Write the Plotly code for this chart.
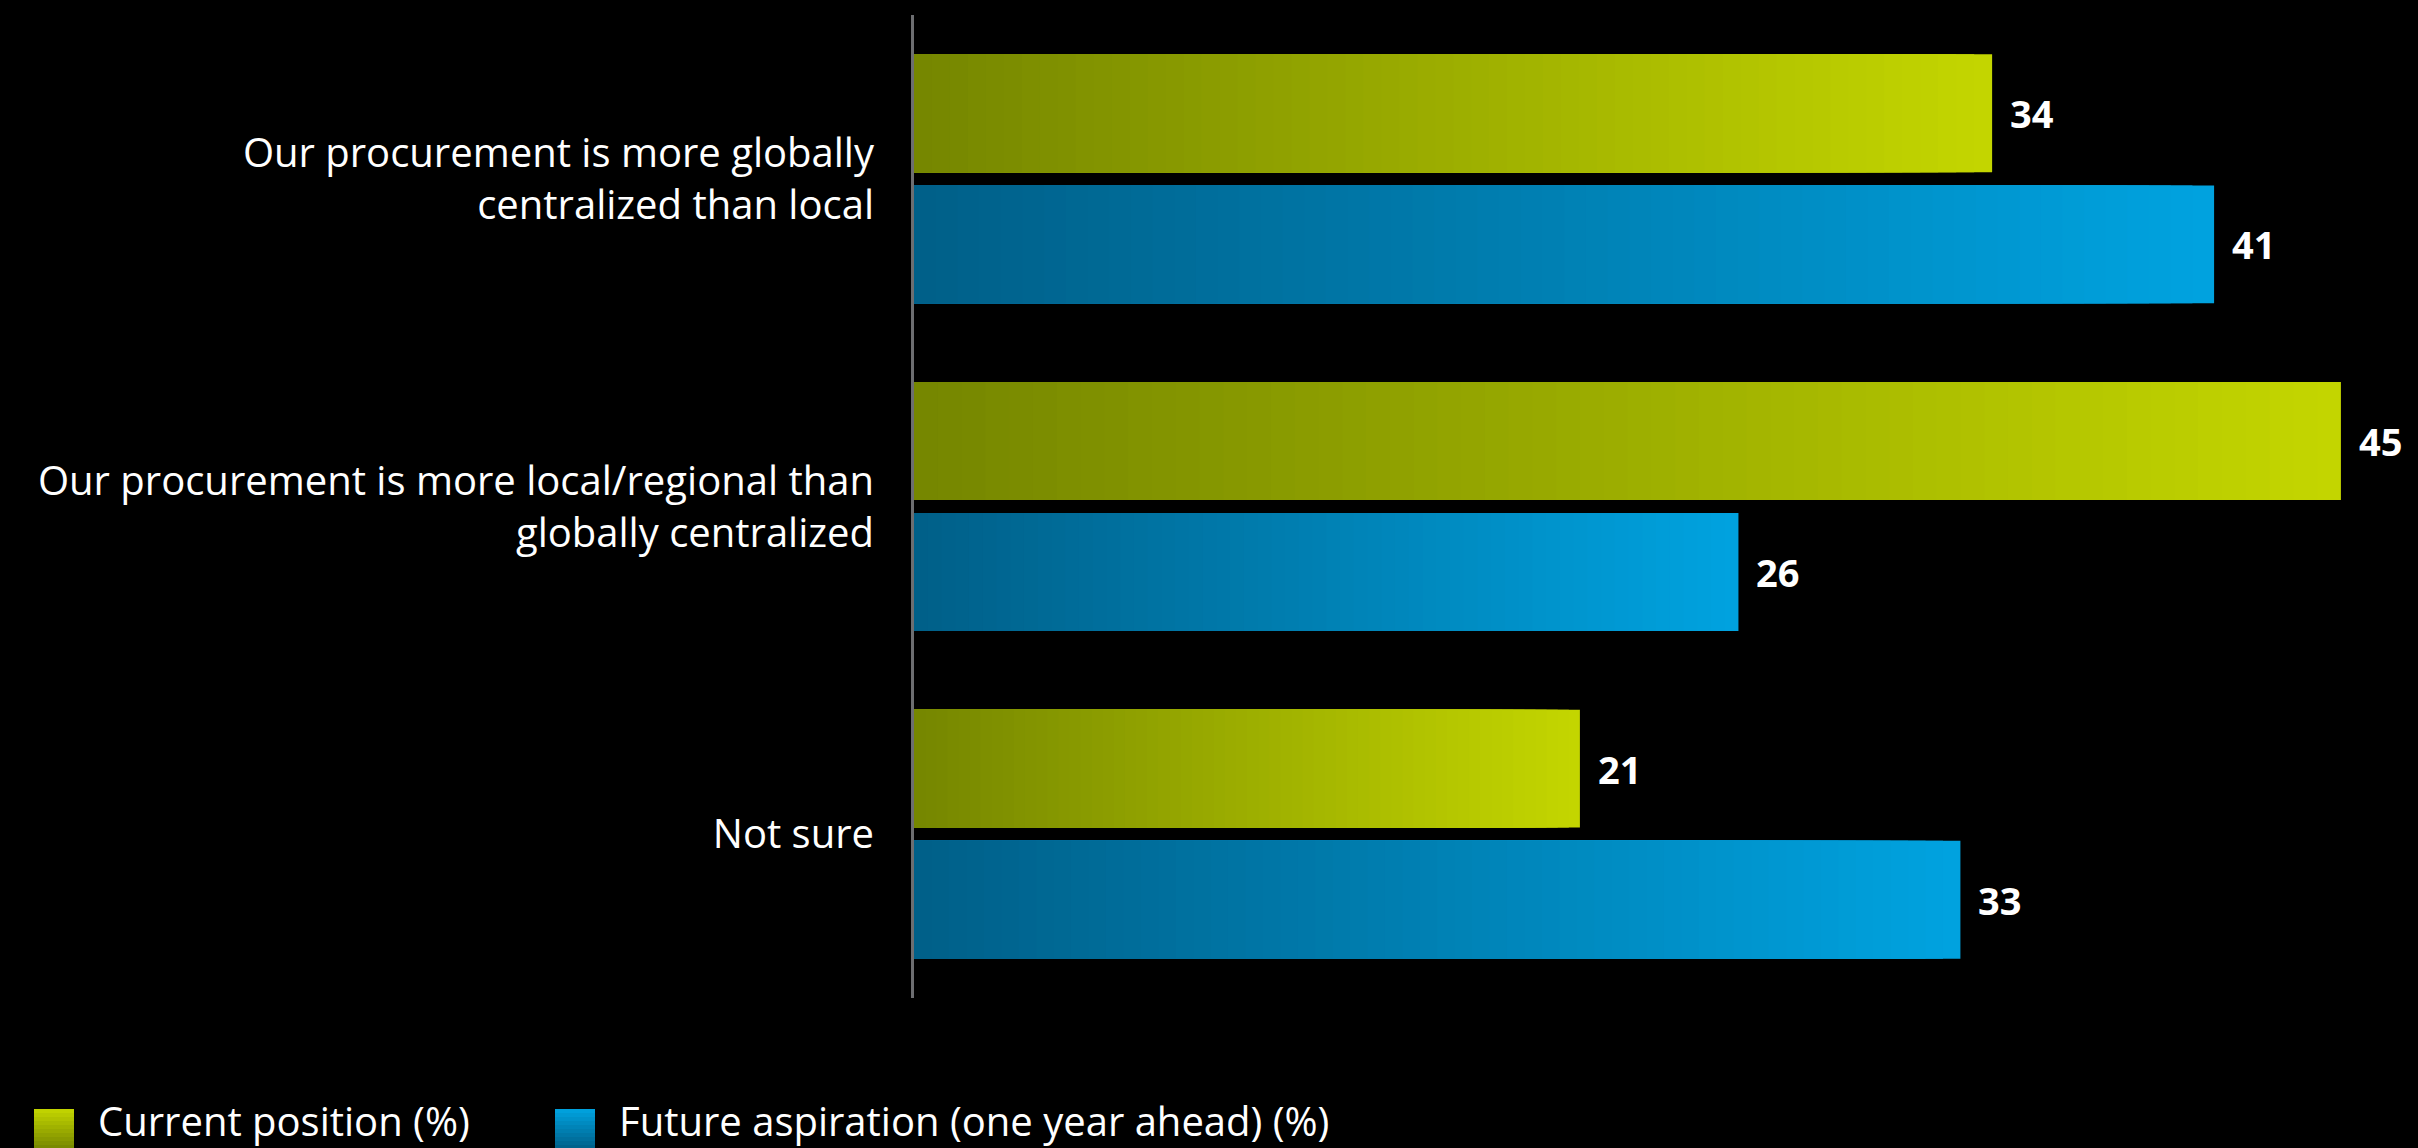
import plotly.graph_objects as go

categories = [
    "Our procurement is more globally<br>centralized than local",
    "Our procurement is more local/regional than<br>globally centralized",
    "Not sure",
]
current = [34, 45, 21]
future = [41, 26, 33]
series_names = ["Current position (%)", "Future aspiration (one year ahead) (%)"]

GREEN = ("#758600", "#c4d600")
BLUE = ("#005f88", "#00a3e0")
FONT = "Open Sans"


def hex2rgb(h):
    h = h.lstrip("#")
    return tuple(int(h[i:i + 2], 16) for i in (0, 2, 4))


def lerp(c0, c1, t):
    a, b = hex2rgb(c0), hex2rgb(c1)
    return "rgb(%d,%d,%d)" % tuple(round(a[i] + (b[i] - a[i]) * t) for i in range(3))


fig = go.Figure()
K = 60
series = [(current, GREEN, -0.38), (future, BLUE, 0.02)]
for vals, (c0, c1), off in series:
    for k in range(K):
        frac = (K - k) / K
        color = lerp(c0, c1, (K - k - 0.5) / K)
        fig.add_trace(go.Bar(
            x=[v * frac for v in vals], y=categories, orientation="h",
            offset=off, width=0.36,
            marker=dict(color=color, line=dict(width=0), opacity=1),
            showlegend=False, hoverinfo="skip",
        ))

# value labels
annotations = []
for vals, (c0, c1), off in series:
    for i, v in enumerate(vals):
        annotations.append(dict(
            x=v, y=i + off + 0.18, xref="x", yref="y", text=f"<b>{v}</b>",
            showarrow=False, xanchor="left", yanchor="middle", xshift=16,
            font=dict(family=FONT, size=38, color="white"),
        ))

# manual legend
shapes = []
leg_x = [-880, -359]
for (c0, c1), lx, name in zip([GREEN, BLUE], leg_x, series_names):
    n = 10
    for j in range(n):
        top = -111 - 4 * j
        shapes.append(dict(
            type="rect", xref="paper", yref="paper", xanchor=0, yanchor=0,
            xsizemode="pixel", ysizemode="pixel",
            x0=lx, x1=lx + 40, y0=top - 4.5, y1=top,
            fillcolor=lerp(c1, c0, (j + 0.5) / n), line=dict(width=0), layer="above",
        ))
    annotations.append(dict(
        x=0, y=0, xref="paper", yref="paper", xshift=lx + 62, yshift=-122,
        text=name, showarrow=False, xanchor="left", yanchor="middle",
        font=dict(family=FONT, size=40, color="white"),
    ))

fig.update_layout(
    barmode="overlay",
    width=2418, height=1148,
    margin=dict(l=914, r=20, t=15, b=150, pad=0),
    paper_bgcolor="black", plot_bgcolor="black",
    font=dict(family=FONT, color="white"),
    showlegend=False,
    annotations=annotations,
    shapes=shapes,
    xaxis=dict(range=[0, 46.8], showgrid=False, zeroline=False, showline=False,
               showticklabels=False, ticks=""),
    yaxis=dict(type="category", range=[2.5, -0.5], showgrid=False, zeroline=False,
               showline=True, linecolor="#6d6e71", linewidth=3, ticks="",
               ticklabelstandoff=29,
               tickfont=dict(family=FONT, size=40, color="white")),
)

fig.write_html("out.html", config={"displayModeBar": False},
               post_script="document.body.style.margin='0';")
